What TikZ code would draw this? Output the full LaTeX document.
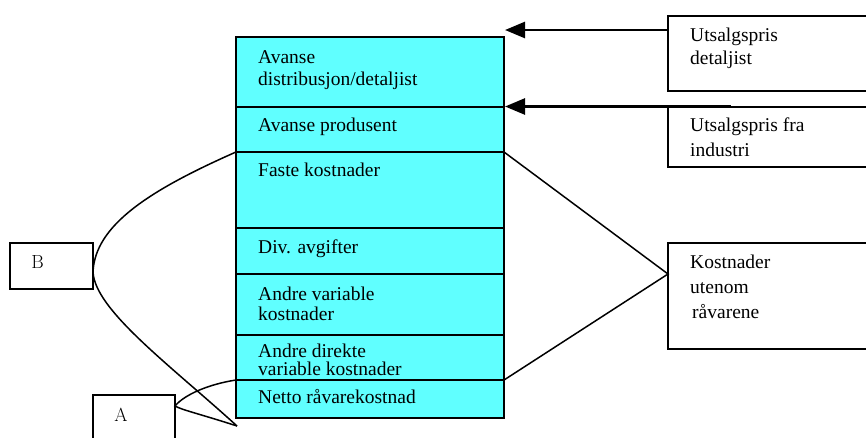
\documentclass[tikz,border=0pt]{standalone}
\usepackage{fontspec}
\newfontfamily\gar{Liberation Serif}
\usetikzlibrary{arrows.meta}
\definecolor{rowfill}{RGB}{96,255,255}
\begin{document}
\begin{tikzpicture}[x=1pt,y=-1pt,
  row/.style={draw=black,line width=1.6pt,fill=rowfill,minimum width=268pt,inner sep=0pt,outer sep=0pt},
  frame/.style={draw=black,line width=2pt,inner sep=0pt,outer sep=0pt},
  lbl/.style={anchor=base west,inner sep=0pt,font=\gar\fontsize{19.5}{22}\selectfont},
  letter/.style={anchor=base,inner sep=0pt,font=\fontsize{19}{22}\selectfont},
  link/.style={line width=1.5pt},
  price/.style={line width=2.6pt,-{Triangle[length=20pt,width=16pt]}}]
\clip (0,0) rectangle (866,437);

% price stack
\node[row,minimum height=70pt] (r1) at (370,72) {};
\node[row,minimum height=45pt] (r2) at (370,129.5) {};
\node[row,minimum height=76pt] (r3) at (370,190) {};
\node[row,minimum height=46pt] (r4) at (370,251) {};
\node[row,minimum height=61pt] (r5) at (370,304.5) {};
\node[row,minimum height=45pt] (r6) at (370,357.5) {};
\node[row,minimum height=38pt] (r7) at (370,399) {};

\node[lbl] (t1a) at (258,63) {Avanse};
\node[lbl] (t1b) at (258,85) {distribusjon/detaljist};
\node[lbl] (t2) at (258,131.5) {Avanse produsent};
\node[lbl] (t3) at (258,176.5) {Faste kostnader};
\node[lbl] (t4) at (258,253) {Div. avgifter};
\node[lbl] (t5a) at (258,300) {Andre variable};
\node[lbl] (t5b) at (258,320) {kostnader};
\node[lbl] (t6a) at (258,357.5) {Andre direkte};
\node[lbl] (t6b) at (258,375.5) {variable kostnader};
\node[lbl] (t7) at (258,403) {Netto råvarekostnad};

% boxes on the right
\node[frame,minimum width=232pt,minimum height=75pt] (ud) at (784,53.5) {};
\node[frame,minimum width=232pt,minimum height=60pt] (ui) at (784,137) {};
\node[frame,minimum width=232pt,minimum height=106pt] (ku) at (784,296) {};
\node[lbl] (u1a) at (690,41.7) {Utsalgspris};
\node[lbl] (u1b) at (690,64) {detaljist};
\node[lbl] (u2a) at (690,131) {Utsalgspris fra};
\node[lbl] (u2b) at (690,156) {industri};
\node[lbl] (k1) at (690,268) {Kostnader};
\node[lbl] (k2) at (690,293) {utenom};
\node[lbl] (k3) at (692,318) {råvarene};

% boxes on the left
\node[frame,minimum width=83pt,minimum height=46pt] (B) at (51.5,266) {};
\node[frame,minimum width=82pt,minimum height=75pt] (A) at (134,432.5) {};
\node[letter] (Bt) at (37.5,268) {B};
\node[letter] (At) at (121,421) {A};

% price arrows
\coordinate (a1s) at (668,30);
\coordinate (a1e) at (505,30);
\coordinate (a2s) at (731,106.5);
\coordinate (a2e) at (505,106.5);
\draw[price] (a1s) -- (a1e);
\draw[price] (a2s) -- (a2e);

% brace to the costs box
\coordinate (kp) at (668,274);
\draw[link] (r3.north east) -- (kp) -- (r6.south east);

% curved braces on the left
\coordinate (bp) at (93,272);
\coordinate (ap) at (175,406);
\coordinate (tip) at (237,426);
\draw[link] (r3.north west) .. controls (150,190) and (95,225) .. (bp)
  .. controls (95,310) and (170,365) .. (tip);
\draw[link] (r7.north west) .. controls (210,384) and (185,394) .. (ap)
  .. controls (182,410) and (200,414) .. (tip);
\end{tikzpicture}
\end{document}
